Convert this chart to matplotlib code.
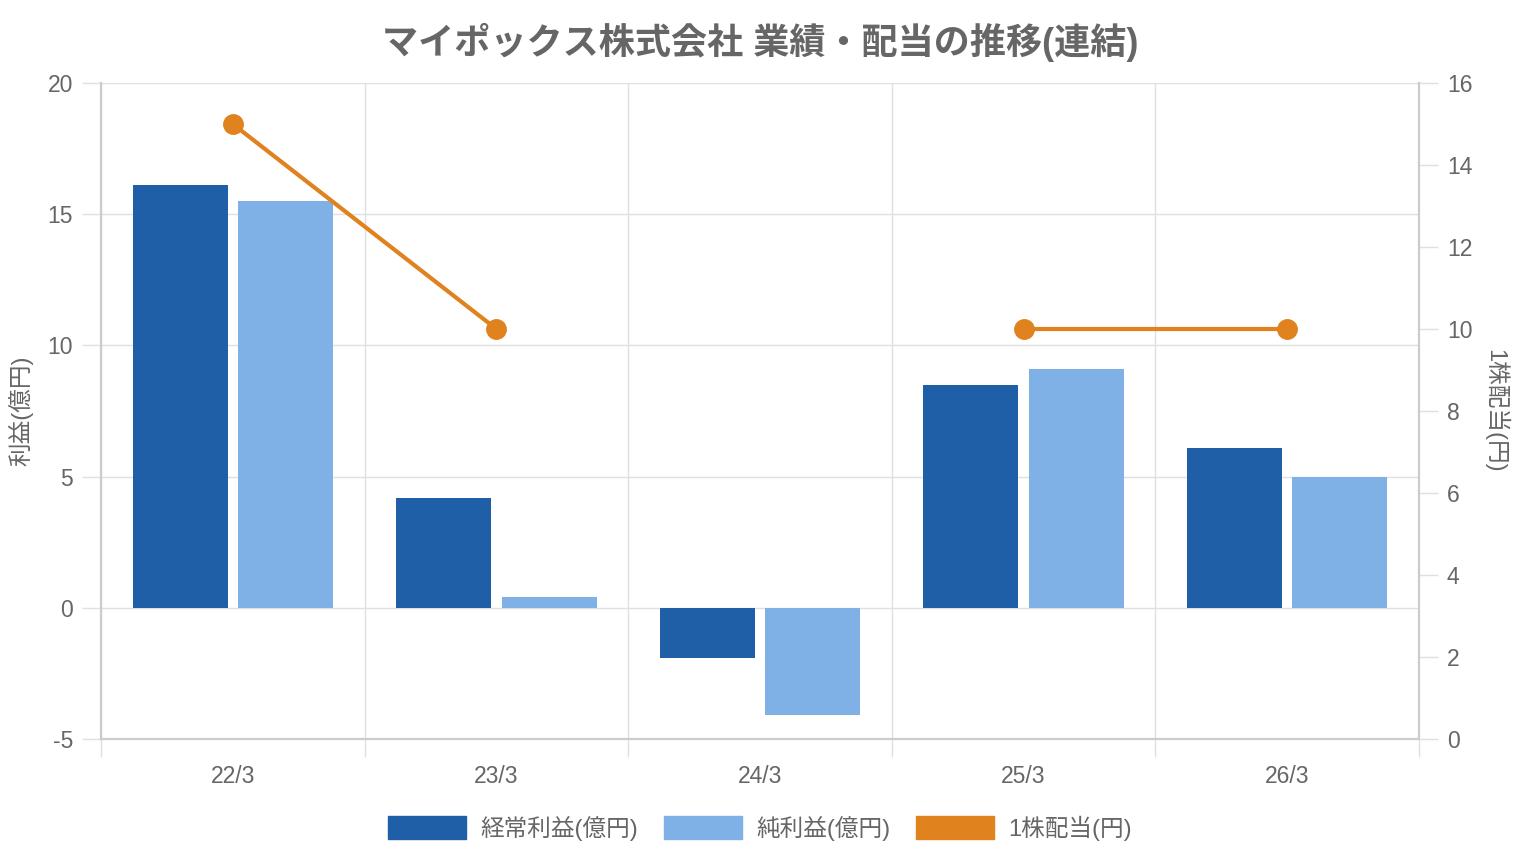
import matplotlib
matplotlib.use('Agg')
import matplotlib.pyplot as plt
from matplotlib.patches import Patch
import numpy as np

periods = ['22/3', '23/3', '24/3', '25/3', '26/3']
ordinary_profit = [16.1, 4.2, -1.9, 8.5, 6.1]
net_profit = [15.5, 0.4, -4.1, 9.1, 5.0]
dividend = [15, 10, np.nan, 10, 10]

title = 'マイポックス株式会社 業績・配当の推移(連結)'
labels = ['経常利益(億円)', '純利益(億円)', '1株配当(円)']

c_dark = '#1f5fa8'
c_light = '#7fb1e7'
c_orange = '#e0821e'
c_text = '#666666'
c_grid = '#e0e0e0'
c_axis = '#cccccc'

plt.rcParams['font.family'] = ['Liberation Sans', 'Noto Sans CJK JP', 'DejaVu Sans']
plt.rcParams['axes.unicode_minus'] = False

fig = plt.figure(figsize=(15.2, 8.6), dpi=100)
ax = fig.add_axes([101 / 1520, 1 - 739 / 860, 1318 / 1520, 656 / 860])
ax2 = ax.twinx()

x = np.arange(len(periods))
w = 0.36
off = 0.2
ax.bar(x - off, ordinary_profit, w, color=c_dark, zorder=3)
ax.bar(x + off, net_profit, w, color=c_light, zorder=3)

ax2.plot(x, dividend, color=c_orange, linewidth=3, marker='o',
         markersize=14, zorder=4)

ax.set_xlim(-0.5, len(periods) - 0.5)
ax.set_ylim(-5, 20)
ax.set_yticks([-5, 0, 5, 10, 15, 20])
ax2.set_ylim(0, 16)
ax2.set_yticks(range(0, 17, 2))

# category boundaries as vertical grid
ax.set_xticks(np.arange(-0.5, len(periods), 1.0))
ax.set_xticklabels([])
ax.set_xticks(x, minor=True)
ax.set_xticklabels(periods, minor=True)
ax.tick_params(axis='x', which='major', length=13, color=c_grid, width=1)
ax.tick_params(axis='x', which='minor', length=0, pad=19,
               labelsize=16.5, labelcolor=c_text)
ax.tick_params(axis='y', length=14, color=c_grid, width=1,
               labelsize=16.5, labelcolor=c_text, pad=6)
ax2.tick_params(axis='y', length=14, color=c_grid, width=1,
                labelsize=16.5, labelcolor=c_text, pad=6)

ax.grid(True, which='major', color=c_grid, linewidth=1, zorder=0)
ax.set_axisbelow(True)

for a in (ax, ax2):
    a.spines['top'].set_visible(False)
    for side in ('left', 'right', 'bottom'):
        a.spines[side].set_color(c_axis)
        a.spines[side].set_linewidth(1.5)

ax.set_ylabel('利益(億円)', fontsize=17, color=c_text, labelpad=10)
ax2.set_ylabel('1株配当(円)', fontsize=17, color=c_text, rotation=-90,
               labelpad=26)

fig.text(0.5, 1 - 42 / 860, title, ha='center', va='center',
         fontsize=26, fontweight='bold', color=c_text)

handles = [Patch(color=c_dark), Patch(color=c_light), Patch(color=c_orange)]
fig.legend(handles, labels, loc='center', bbox_to_anchor=(0.5, 1 - 828 / 860),
           ncol=3, frameon=False, fontsize=17, labelcolor=c_text,
           handlelength=3.3, handleheight=1.1, columnspacing=1.1,
           handletextpad=0.6)

fig.savefig('out.png', dpi=100)
